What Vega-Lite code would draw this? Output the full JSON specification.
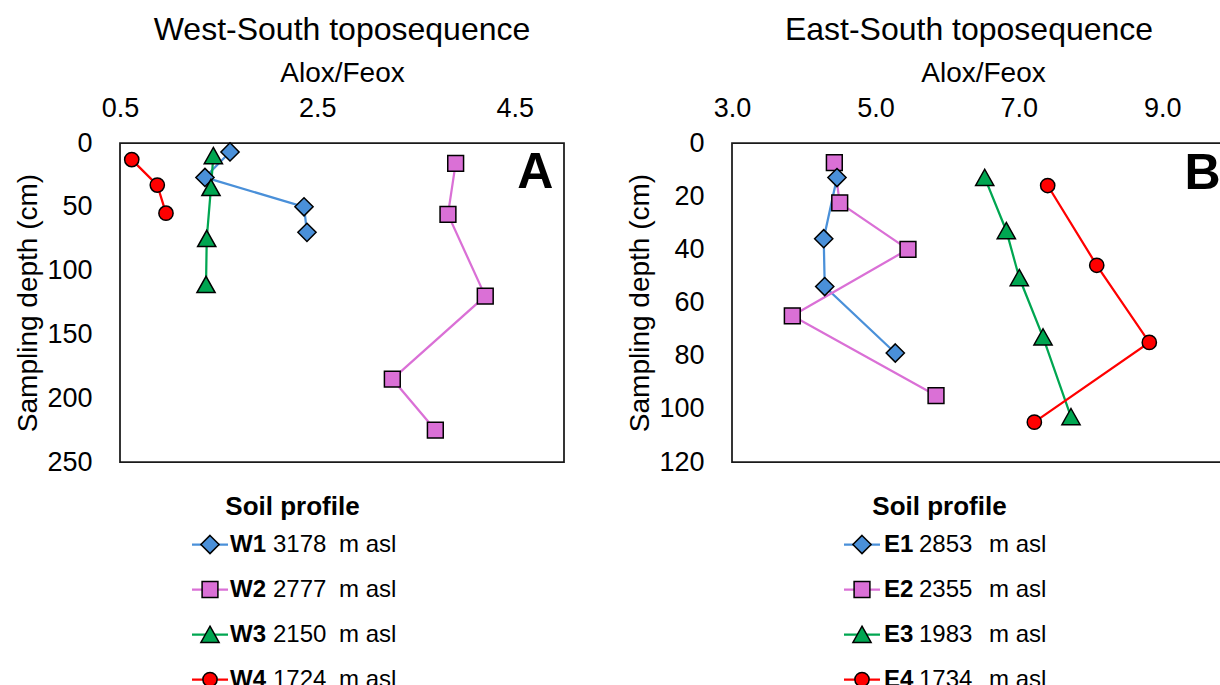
{
  "$schema": "https://vega.github.io/schema/vega-lite/v6.json",
  "background": "white",
  "padding": {"top": 13, "left": 14, "right": 0, "bottom": 0},
  "config": {
    "font": "Liberation Sans",
    "title": {"color": "black", "fontWeight": "normal", "font": "Liberation Sans"},
    "axis": {"labelColor": "black", "titleColor": "black", "grid": false, "ticks": false, "tickSize": 0, "domain": false, "titleFontWeight": "normal", "labelFlush": false, "labelOverlap": false}
  },
  "datasets": {
    "west": [
      {"profile": "W1", "alox_feox": 1.615, "depth": 7},
      {"profile": "W1", "alox_feox": 1.361, "depth": 27},
      {"profile": "W1", "alox_feox": 2.365, "depth": 50},
      {"profile": "W1", "alox_feox": 2.395, "depth": 70},
      {"profile": "W2", "alox_feox": 3.902, "depth": 16},
      {"profile": "W2", "alox_feox": 3.824, "depth": 56},
      {"profile": "W2", "alox_feox": 4.202, "depth": 120},
      {"profile": "W2", "alox_feox": 3.26, "depth": 185},
      {"profile": "W2", "alox_feox": 3.696, "depth": 225},
      {"profile": "W3", "alox_feox": 1.446, "depth": 10},
      {"profile": "W3", "alox_feox": 1.422, "depth": 35},
      {"profile": "W3", "alox_feox": 1.379, "depth": 75},
      {"profile": "W3", "alox_feox": 1.372, "depth": 111},
      {"profile": "W4", "alox_feox": 0.619, "depth": 13},
      {"profile": "W4", "alox_feox": 0.878, "depth": 33},
      {"profile": "W4", "alox_feox": 0.966, "depth": 55}
    ],
    "east": [
      {"profile": "E1", "alox_feox": 4.464, "depth": 13},
      {"profile": "E1", "alox_feox": 4.279, "depth": 36},
      {"profile": "E1", "alox_feox": 4.293, "depth": 54},
      {"profile": "E1", "alox_feox": 5.277, "depth": 79},
      {"profile": "E2", "alox_feox": 4.427, "depth": 7.4},
      {"profile": "E2", "alox_feox": 4.502, "depth": 22.5},
      {"profile": "E2", "alox_feox": 5.454, "depth": 40},
      {"profile": "E2", "alox_feox": 3.841, "depth": 65},
      {"profile": "E2", "alox_feox": 5.845, "depth": 95},
      {"profile": "E3", "alox_feox": 6.524, "depth": 13},
      {"profile": "E3", "alox_feox": 6.825, "depth": 33},
      {"profile": "E3", "alox_feox": 7.006, "depth": 50.7},
      {"profile": "E3", "alox_feox": 7.337, "depth": 73},
      {"profile": "E3", "alox_feox": 7.727, "depth": 103},
      {"profile": "E4", "alox_feox": 7.402, "depth": 16},
      {"profile": "E4", "alox_feox": 8.086, "depth": 46},
      {"profile": "E4", "alox_feox": 8.819, "depth": 75},
      {"profile": "E4", "alox_feox": 7.216, "depth": 105}
    ],
    "westLegend": [
      {"profile": "W1", "elevation": 3178},
      {"profile": "W2", "elevation": 2777},
      {"profile": "W3", "elevation": 2150},
      {"profile": "W4", "elevation": 1724}
    ],
    "eastLegend": [
      {"profile": "E1", "elevation": 2853},
      {"profile": "E2", "elevation": 2355},
      {"profile": "E3", "elevation": 1983},
      {"profile": "E4", "elevation": 1734}
    ],
    "panelA": [{"panel": "A"}],
    "panelB": [{"panel": "B"}]
  },
  "spacing": 61,
  "bounds": "full",
  "resolve": {"scale": {"x": "independent", "y": "independent", "color": "independent", "shape": "independent"}},
  "hconcat": [
    {
      "spacing": 18,
      "resolve": {"scale": {"x": "independent", "y": "independent"}},
      "vconcat": [
        {
          "width": 444,
          "height": 319,
          "view": {"stroke": "#1a1a1a", "strokeWidth": 1.75},
          "title": {"text": "West-South toposequence", "fontSize": 32, "offset": 12, "anchor": "middle", "frame": "group"},
          "layer": [
            {
              "data": {"name": "west"},
              "encoding": {
                "x": {"field": "alox_feox", "type": "quantitative", "scale": {"domain": [0.5, 5.0], "nice": false, "zero": false},
                  "axis": {"orient": "top", "title": "Alox/Feox", "values": [0.5, 2.5, 4.5], "format": ".1f", "labelFontSize": 27, "titleFontSize": 28, "labelPadding": 21, "titlePadding": 7}},
                "y": {"field": "depth", "type": "quantitative", "scale": {"domain": [0, 250], "reverse": true, "nice": false, "zero": false},
                  "axis": {"title": "Sampling depth (cm)", "values": [0, 50, 100, 150, 200, 250], "labelFontSize": 27, "titleFontSize": 28, "labelPadding": 28, "titlePadding": 4}},
                "color": {"field": "profile", "type": "nominal", "scale": {"domain": ["W1", "W2", "W3", "W4"], "range": ["#4A90D9", "#DA70D6", "#00A651", "#FF0000"]}, "legend": null},
                "order": {"field": "depth", "type": "quantitative"}
              },
              "layer": [
                {"mark": {"type": "line", "strokeWidth": 2.25}},
                {"mark": {"type": "point", "filled": true, "opacity": 1, "stroke": "black", "strokeWidth": 1.5, "size": 250},
                  "encoding": {"shape": {"field": "profile", "type": "nominal", "scale": {"domain": ["W1", "W2", "W3", "W4"], "range": ["M0,-1.15L1.15,0L0,1.15L-1.15,0Z", "square", "M0,-1.05L1.15,1L-1.15,1Z", "M0.9,0A0.9,0.9,0,1,1,-0.9,0A0.9,0.9,0,1,1,0.9,0Z"]}, "legend": null}}}
              ]
            },
            {
              "data": {"name": "panelA"},
              "mark": {"type": "text", "fontSize": 50, "fontWeight": "bold", "align": "center", "baseline": "middle", "color": "black"},
              "encoding": {"x": {"datum": 4.71}, "y": {"datum": 23.5}, "text": {"field": "panel"}}
            }
          ]
        },
        {
          "width": 444,
          "height": 180,
          "view": {"stroke": null},
          "title": {"text": "Soil profile", "fontSize": 26, "fontWeight": "bold", "anchor": "middle", "frame": "group", "offset": 2, "dx": -49.5},
          "data": {"name": "westLegend"},
          "encoding": {
            "y": {"field": "profile", "type": "nominal", "scale": {"type": "point", "padding": 0.5, "domain": ["W1", "W2", "W3", "W4"]}, "axis": null},
            "color": {"field": "profile", "type": "nominal", "scale": {"domain": ["W1", "W2", "W3", "W4"], "range": ["#4A90D9", "#DA70D6", "#00A651", "#FF0000"]}, "legend": null}
          },
          "layer": [
            {"mark": {"type": "rule", "strokeWidth": 2.25},
              "encoding": {"x": {"datum": 72, "type": "quantitative", "scale": {"domain": [0, 444], "nice": false, "zero": false}, "axis": null}, "x2": {"datum": 108}}},
            {"mark": {"type": "point", "filled": true, "opacity": 1, "stroke": "black", "strokeWidth": 1.5, "size": 250},
              "encoding": {"x": {"datum": 90, "type": "quantitative"}, "shape": {"field": "profile", "type": "nominal", "scale": {"domain": ["W1", "W2", "W3", "W4"], "range": ["M0,-1.15L1.15,0L0,1.15L-1.15,0Z", "square", "M0,-1.05L1.15,1L-1.15,1Z", "M0.9,0A0.9,0.9,0,1,1,-0.9,0A0.9,0.9,0,1,1,0.9,0Z"]}, "legend": null}}},
            {"mark": {"type": "text", "align": "left", "baseline": "middle", "fontSize": 24, "fontWeight": "bold"},
              "encoding": {"x": {"datum": 110, "type": "quantitative"}, "text": {"field": "profile"}, "color": {"value": "black"}}},
            {"mark": {"type": "text", "align": "left", "baseline": "middle", "fontSize": 24},
              "encoding": {"x": {"datum": 153, "type": "quantitative"}, "text": {"field": "elevation"}, "color": {"value": "black"}}},
            {"mark": {"type": "text", "align": "left", "baseline": "middle", "fontSize": 24, "text": "m asl"},
              "encoding": {"x": {"datum": 219, "type": "quantitative"}, "color": {"value": "black"}}}
          ]
        }
      ]
    },
    {
      "spacing": 18,
      "resolve": {"scale": {"x": "independent", "y": "independent"}},
      "vconcat": [
        {
          "width": 502,
          "height": 319,
          "view": {"stroke": "#1a1a1a", "strokeWidth": 1.75},
          "title": {"text": "East-South toposequence", "fontSize": 32, "offset": 12, "anchor": "middle", "frame": "group", "dx": -14},
          "layer": [
            {
              "data": {"name": "east"},
              "encoding": {
                "x": {"field": "alox_feox", "type": "quantitative", "scale": {"domain": [3, 10], "nice": false, "zero": false},
                  "axis": {"orient": "top", "title": "Alox/Feox", "values": [3, 5, 7, 9], "format": ".1f", "labelFontSize": 27, "titleFontSize": 28, "labelPadding": 21, "titlePadding": 7}},
                "y": {"field": "depth", "type": "quantitative", "scale": {"domain": [0, 120], "reverse": true, "nice": false, "zero": false},
                  "axis": {"title": "Sampling depth (cm)", "values": [0, 20, 40, 60, 80, 100, 120], "labelFontSize": 27, "titleFontSize": 28, "labelPadding": 28, "titlePadding": 4}},
                "color": {"field": "profile", "type": "nominal", "scale": {"domain": ["E1", "E2", "E3", "E4"], "range": ["#4A90D9", "#DA70D6", "#00A651", "#FF0000"]}, "legend": null},
                "order": {"field": "depth", "type": "quantitative"}
              },
              "layer": [
                {"mark": {"type": "line", "strokeWidth": 2.25}},
                {"mark": {"type": "point", "filled": true, "opacity": 1, "stroke": "black", "strokeWidth": 1.5, "size": 250},
                  "encoding": {"shape": {"field": "profile", "type": "nominal", "scale": {"domain": ["E1", "E2", "E3", "E4"], "range": ["M0,-1.15L1.15,0L0,1.15L-1.15,0Z", "square", "M0,-1.05L1.15,1L-1.15,1Z", "M0.9,0A0.9,0.9,0,1,1,-0.9,0A0.9,0.9,0,1,1,0.9,0Z"]}, "legend": null}}}
              ]
            },
            {
              "data": {"name": "panelB"},
              "mark": {"type": "text", "fontSize": 50, "fontWeight": "bold", "align": "center", "baseline": "middle", "color": "black"},
              "encoding": {"x": {"datum": 9.56}, "y": {"datum": 11.7}, "text": {"field": "panel"}}
            }
          ]
        },
        {
          "width": 502,
          "height": 180,
          "view": {"stroke": null},
          "title": {"text": "Soil profile", "fontSize": 26, "fontWeight": "bold", "anchor": "middle", "frame": "group", "offset": 2, "dx": -43.5},
          "data": {"name": "eastLegend"},
          "encoding": {
            "y": {"field": "profile", "type": "nominal", "scale": {"type": "point", "padding": 0.5, "domain": ["E1", "E2", "E3", "E4"]}, "axis": null},
            "color": {"field": "profile", "type": "nominal", "scale": {"domain": ["E1", "E2", "E3", "E4"], "range": ["#4A90D9", "#DA70D6", "#00A651", "#FF0000"]}, "legend": null}
          },
          "layer": [
            {"mark": {"type": "rule", "strokeWidth": 2.25},
              "encoding": {"x": {"datum": 112, "type": "quantitative", "scale": {"domain": [0, 502], "nice": false, "zero": false}, "axis": null}, "x2": {"datum": 148}}},
            {"mark": {"type": "point", "filled": true, "opacity": 1, "stroke": "black", "strokeWidth": 1.5, "size": 250},
              "encoding": {"x": {"datum": 130, "type": "quantitative"}, "shape": {"field": "profile", "type": "nominal", "scale": {"domain": ["E1", "E2", "E3", "E4"], "range": ["M0,-1.15L1.15,0L0,1.15L-1.15,0Z", "square", "M0,-1.05L1.15,1L-1.15,1Z", "M0.9,0A0.9,0.9,0,1,1,-0.9,0A0.9,0.9,0,1,1,0.9,0Z"]}, "legend": null}}},
            {"mark": {"type": "text", "align": "left", "baseline": "middle", "fontSize": 24, "fontWeight": "bold"},
              "encoding": {"x": {"datum": 152, "type": "quantitative"}, "text": {"field": "profile"}, "color": {"value": "black"}}},
            {"mark": {"type": "text", "align": "left", "baseline": "middle", "fontSize": 24},
              "encoding": {"x": {"datum": 187, "type": "quantitative"}, "text": {"field": "elevation"}, "color": {"value": "black"}}},
            {"mark": {"type": "text", "align": "left", "baseline": "middle", "fontSize": 24, "text": "m asl"},
              "encoding": {"x": {"datum": 257, "type": "quantitative"}, "color": {"value": "black"}}}
          ]
        }
      ]
    }
  ]
}
